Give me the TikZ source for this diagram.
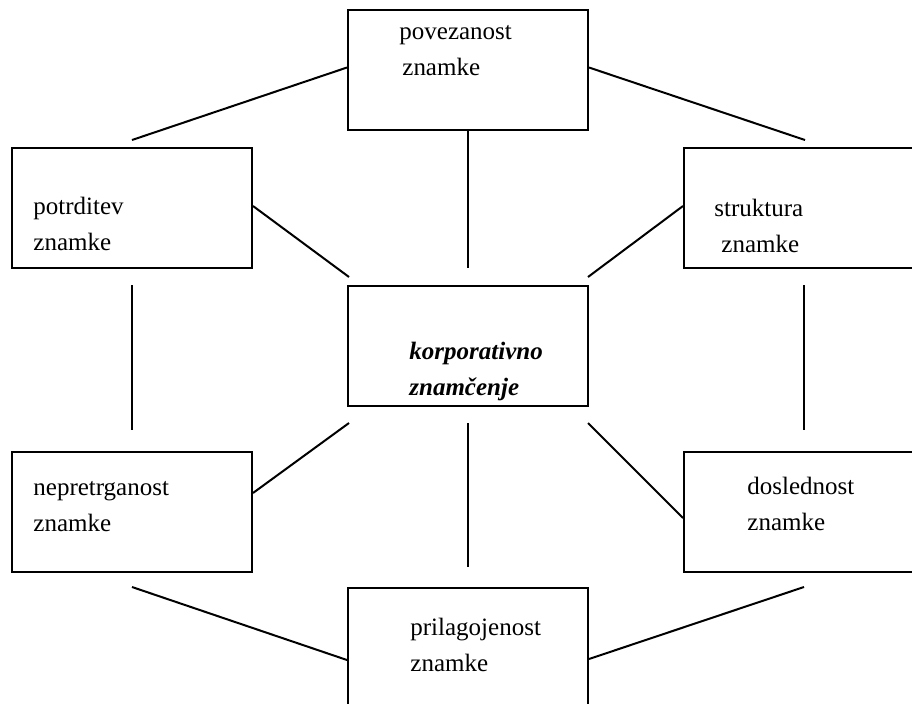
\documentclass[tikz,border=0pt]{standalone}
\usepackage{fontspec}
\setmainfont{Liberation Serif}
\usetikzlibrary{calc}
\begin{document}
\begin{tikzpicture}[x=0.5pt,y=-0.5pt,
  box/.style={draw,line width=1pt,rectangle,minimum width=120pt,minimum height=60pt,inner sep=0pt},
  label/.style={anchor=north west,align=left,inner sep=0pt,font=\fontsize{12.5pt}{18pt}\selectfont},
  link/.style={line width=1pt}]
  \useasboundingbox (0,0) rectangle (912,703);
  \fill[white] (0,0) rectangle (912,703);
  \clip (0,0) rectangle (912,703);

  % boxes
  \node[box] (top) at (468,69.5) {};
  \node[box] (lu)  at (132,208) {};
  \node[box] (ru)  at (804,208) {};
  \node[box] (c)   at (468,345.5) {};
  \node[box] (ll)  at (132,511.5) {};
  \node[box] (rl)  at (804,511.5) {};
  \node[box] (bot) at (468,648) {};

  % labels (placed by the top of their first line)
  \node[label] (topt) at (399,25)  {povezanost\\\hspace{1.5pt}znamke};
  \node[label] (lut)  at (33,197)  {potrditev\\znamke};
  \node[label] (rut)  at (714,199) {struktura\\\hspace{3.5pt}znamke};
  \node[label,font=\fontsize{12.5pt}{18pt}\selectfont\bfseries\itshape] (ct) at (409,342) {korporativno\\znamčenje};
  \node[label] (llt)  at (33,481)  {nepretrganost\\znamke};
  \node[label] (rlt)  at (747,477) {doslednost\\znamke};
  \node[label] (bott) at (410,618) {prilagojenost\\znamke};

  % free ends of the connectors
  \coordinate (e1) at (132,140);
  \coordinate (e2) at (805,140);
  \coordinate (e3) at (468,268);
  \coordinate (e4) at (349,277);
  \coordinate (e5) at (588,277);
  \coordinate (e6a) at (132,285);
  \coordinate (e6b) at (132,430);
  \coordinate (e7a) at (804,285);
  \coordinate (e7b) at (804,430);
  \coordinate (e8) at (349,423);
  \coordinate (e9a) at (468,423);
  \coordinate (e9b) at (468,567);
  \coordinate (e10) at (588,423);
  \coordinate (e11) at (132,587);
  \coordinate (e12) at (804,587);

  % connectors
  \draw[link] ($(top.west)+(0,-2)$) -- (e1);
  \draw[link] ($(top.east)+(0,-2)$) -- (e2);
  \draw[link] (top.south) -- (e3);
  \draw[link] ($(lu.east)+(0,-2)$) -- (e4);
  \draw[link] ($(ru.west)+(0,-2)$) -- (e5);
  \draw[link] (e6a) -- (e6b);
  \draw[link] (e7a) -- (e7b);
  \draw[link] (e8) -- ($(ll.east)+(0,-18.5)$);
  \draw[link] (e9a) -- (e9b);
  \draw[link] (e10) -- ($(rl.west)+(0,6.5)$);
  \draw[link] (e11) -- ($(bot.west)+(0,12)$);
  \draw[link] ($(bot.east)+(0,11)$) -- (e12);
\end{tikzpicture}
\end{document}
